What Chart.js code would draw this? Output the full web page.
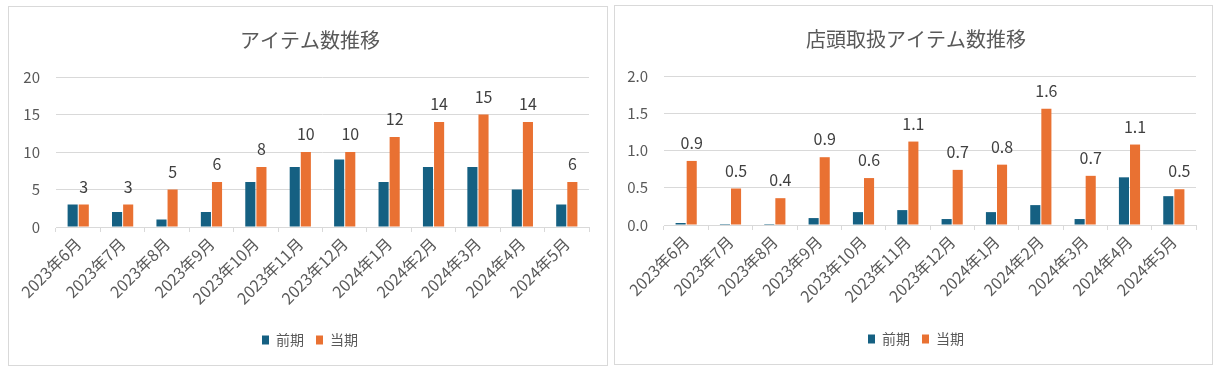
<!DOCTYPE html>
<html><head><meta charset="utf-8">
<script src="https://cdn.jsdelivr.net/npm/chart.js@4/dist/chart.umd.min.js"></script>
<style>
html,body{margin:0;padding:0;background:#fff;width:1219px;height:368px;overflow:hidden;}
.box{position:absolute;border:1px solid #d9d9d9;box-sizing:border-box;background:#fff;}
canvas{position:absolute;left:0;top:0;}
</style></head><body>
<div class="box" style="left:8px;top:6px;width:600px;height:360px;"><canvas id="c1" width="602" height="358"></canvas></div>
<div class="box" style="left:614px;top:5px;width:599px;height:360px;"><canvas id="c2" width="602" height="358"></canvas></div>
<script>
const categories = ['2023年6月','2023年7月','2023年8月','2023年9月','2023年10月','2023年11月','2023年12月','2024年1月','2024年2月','2024年3月','2024年4月','2024年5月'];
const seriesNames = ['前期','当期'];
const itemPrev = [3,2,1,2,6,8,9,6,8,8,5,3];
const itemCurr = [3,3,5,6,8,10,10,12,14,15,14,6];
const storePrev = [0.027,0.013,0.013,0.093,0.173,0.2,0.08,0.173,0.267,0.08,0.64,0.387];
const storeCurr = [0.86,0.49,0.36,0.91,0.63,1.12,0.74,0.81,1.56,0.66,1.08,0.48];
const titles = ['アイテム数推移','店頭取扱アイテム数推移'];

const FONT = "'Noto Sans CJK JP','Noto Sans',sans-serif";
const TXT = '#595959';
const BLUE = '#156082', ORANGE = '#E97132';

const labelPlugin = {
  id:'vlabels',
  afterDatasetsDraw(chart, args, opts){
    const ctx = chart.ctx;
    const meta = chart.getDatasetMeta(1);
    const data = chart.data.datasets[1].data;
    ctx.save();
    ctx.font = '16px ' + FONT;
    ctx.fillStyle = '#404040';
    ctx.textAlign = 'center';
    ctx.textBaseline = 'middle';
    meta.data.forEach((bar,i)=>{
      ctx.fillText(opts.fmt(data[i]), bar.x, bar.y - 18);
    });
    ctx.restore();
  }
};

function makeChart(id, title, prev, curr, ymax, ystep, fmt, yw, rw, xh){
  return new Chart(document.getElementById(id), {
    type:'bar',
    data:{labels:categories, datasets:[
      {label:seriesNames[0], data:prev, backgroundColor:BLUE, categoryPercentage:0.5, barPercentage:0.91},
      {label:seriesNames[1], data:curr, backgroundColor:ORANGE, categoryPercentage:0.5, barPercentage:0.91}
    ]},
    options:{
      responsive:false, animation:false,
      layout:{padding:{left:0,right:0,top:0,bottom:8}},
      plugins:{
        title:{display:true, text:title, color:TXT, font:{family:FONT,size:20,weight:'normal'}, padding:{top:21,bottom:25}},
        legend:{position:'bottom', labels:{color:TXT, font:{family:FONT,size:14}, boxWidth:7, boxHeight:9, padding:12}},
        tooltip:{enabled:false},
        vlabels:{fmt:fmt}
      },
      scales:{
        x:{
          grid:{display:true, offset:true, drawOnChartArea:false, drawTicks:true, tickLength:5, color:'#d9d9d9'},
          border:{display:true, color:'#d9d9d9'},
          ticks:{color:TXT, font:{family:FONT,size:16}, minRotation:45, maxRotation:45, padding:2, autoSkip:false},
          afterFit(s){ s.height = xh; }
        },
        y:{
          min:0, max:ymax,
          grid:{color:'#d9d9d9', drawTicks:false},
          border:{display:false},
          ticks:{stepSize:ystep, color:TXT, font:{family:FONT,size:15}, padding:16, callback:v=>fmt(v)},
          afterFit(s){ s.width = yw; }
        },
        spacer:{
          type:'linear', position:'right', display:true,
          grid:{display:false, drawTicks:false}, border:{display:false},
          ticks:{display:false},
          afterFit(s){ s.width = rw; }
        }
      }
    },
    plugins:[labelPlugin]
  });
}
makeChart('c1', titles[0], itemPrev, itemCurr, 20, 5, v=>String(Math.round(v)), 47, 22, 94);
makeChart('c2', titles[1], storePrev, storeCurr, 2, 0.5, v=>Number(v).toFixed(1), 49, 21, 95);
</script></body></html>
